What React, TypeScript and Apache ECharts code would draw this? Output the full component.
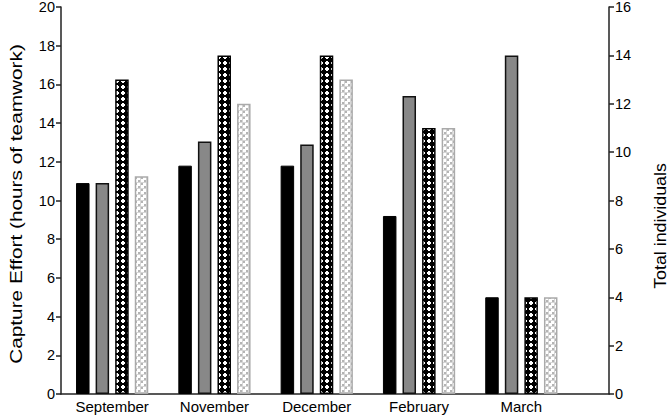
import React, { useEffect, useRef } from "react";
import * as echarts from "echarts";

const categories = ["September", "November", "December", "February", "March"];
const effortBlack = [10.9, 11.8, 11.8, 9.2, 5.0];
const effortGray = [10.9, 13.05, 12.9, 15.4, 17.5];
const individualsDark = [13, 14, 14, 11, 4];
const individualsLight = [9, 12, 13, 11, 4];
const leftTicks = { min: 0, max: 20, interval: 2 };
const rightTicks = { min: 0, max: 16, interval: 2 };
const leftTitle = "Capture Effort (hours of teamwork)";
const rightTitle = "Total individuals";

function makeTile(kind: "dark" | "light") {
  const c = document.createElement("canvas");
  const s = 6;
  c.width = s;
  c.height = s;
  const ctx = c.getContext("2d")!;
  if (kind === "dark") {
    ctx.fillStyle = "#000";
    ctx.fillRect(0, 0, s, s);
    ctx.fillStyle = "#fff";
    ctx.fillRect(2, 1, 2, 4);
    ctx.fillRect(1, 2, 4, 2);
  } else {
    ctx.fillStyle = "#fff";
    ctx.fillRect(0, 0, s, s);
    ctx.fillStyle = "#b4b4b4";
    ctx.fillRect(0, 0, 2, 2);
    ctx.fillRect(3, 3, 2, 2);
    ctx.fillStyle = "#d6d6d6";
    ctx.fillRect(2, 0, 1, 6);
    ctx.fillRect(0, 2, 6, 1);
  }
  return c;
}

export default function App() {
  const ref = useRef<HTMLDivElement>(null);
  useEffect(() => {
    if (!ref.current) return;
    const chart = echarts.init(ref.current, undefined, { renderer: "svg" });
    const font = "Liberation Sans";
    const darkTile = makeTile("dark");
    const lightTile = makeTile("light");
    const axisLine = { show: true, lineStyle: { color: "#222", width: 1.5 } };
    const tick = { show: true, length: 5, inside: false, lineStyle: { color: "#222", width: 1.5 } };
    const barW = 13.5;
    chart.setOption({
      animation: false,
      backgroundColor: "#fff",
      textStyle: { fontFamily: font },
      grid: [
        { left: 61, top: 7, width: 511.5, height: 387, outerBoundsMode: "none", containLabel: false },
        { left: 61, top: 7, width: 548, height: 387, outerBoundsMode: "none", containLabel: false },
      ],
      graphic: [
        {
          type: "text",
          x: 16,
          y: 204,
          rotation: Math.PI / 2,
          scaleX: 1.3,
          style: {
            text: leftTitle,
            fontSize: 16,
            fontFamily: font,
            fill: "#000",
            align: "center",
            verticalAlign: "middle",
          },
        },
        {
          type: "text",
          x: 660,
          y: 226,
          rotation: Math.PI / 2,
          scaleX: 1.08,
          style: {
            text: rightTitle,
            fontSize: 16.5,
            fontFamily: font,
            fill: "#000",
            align: "center",
            verticalAlign: "middle",
          },
        },
      ],
      xAxis: [
        {
          type: "category",
          gridIndex: 0,
          data: categories,
          axisLine: { show: false },
          axisTick: { show: false },
          axisLabel: { color: "#000", fontSize: 15, margin: 5, fontFamily: font },
        },
        {
          type: "category",
          gridIndex: 1,
          data: [""],
          axisLine,
          axisTick: { show: false },
          axisLabel: { show: false },
        },
      ],
      yAxis: [
        {
          type: "value",
          gridIndex: 0,
          position: "left",
          ...leftTicks,
          axisLine,
          axisTick: tick,
          axisLabel: { color: "#000", fontSize: 14.5, margin: 6, fontFamily: font },
          splitLine: { show: false },
        },
        {
          type: "value",
          gridIndex: 0,
          position: "right",
          offset: 36.5,
          ...rightTicks,
          axisLine,
          axisTick: tick,
          axisLabel: { color: "#000", fontSize: 14.5, margin: 6, fontFamily: font },
          splitLine: { show: false },
        },
        {
          type: "value",
          gridIndex: 1,
          show: false,
          min: 0,
          max: 1,
        },
      ],
      series: [
        {
          type: "bar",
          xAxisIndex: 0,
          yAxisIndex: 0,
          data: effortBlack,
          barWidth: barW,
          barGap: "45%",
          itemStyle: { color: "#000", borderColor: "#000", borderWidth: 1 },
        },
        {
          type: "bar",
          xAxisIndex: 0,
          yAxisIndex: 0,
          data: effortGray,
          barWidth: barW,
          barGap: "45%",
          itemStyle: { color: "#888", borderColor: "#111", borderWidth: 1.5 },
        },
        {
          type: "bar",
          xAxisIndex: 0,
          yAxisIndex: 1,
          data: individualsDark,
          barWidth: barW,
          barGap: "45%",
          itemStyle: {
            color: { image: darkTile, repeat: "repeat" },
            borderColor: "#000",
            borderWidth: 1.5,
          },
        },
        {
          type: "bar",
          xAxisIndex: 0,
          yAxisIndex: 1,
          data: individualsLight,
          barWidth: barW,
          barGap: "45%",
          itemStyle: {
            color: { image: lightTile, repeat: "repeat" },
            borderColor: "#aaa",
            borderWidth: 1.5,
          },
        },
      ],
    });
    return () => chart.dispose();
  }, []);
  return <div ref={ref} style={{ width: 669, height: 415, position: "absolute", left: 0, top: 0 }} />;
}
